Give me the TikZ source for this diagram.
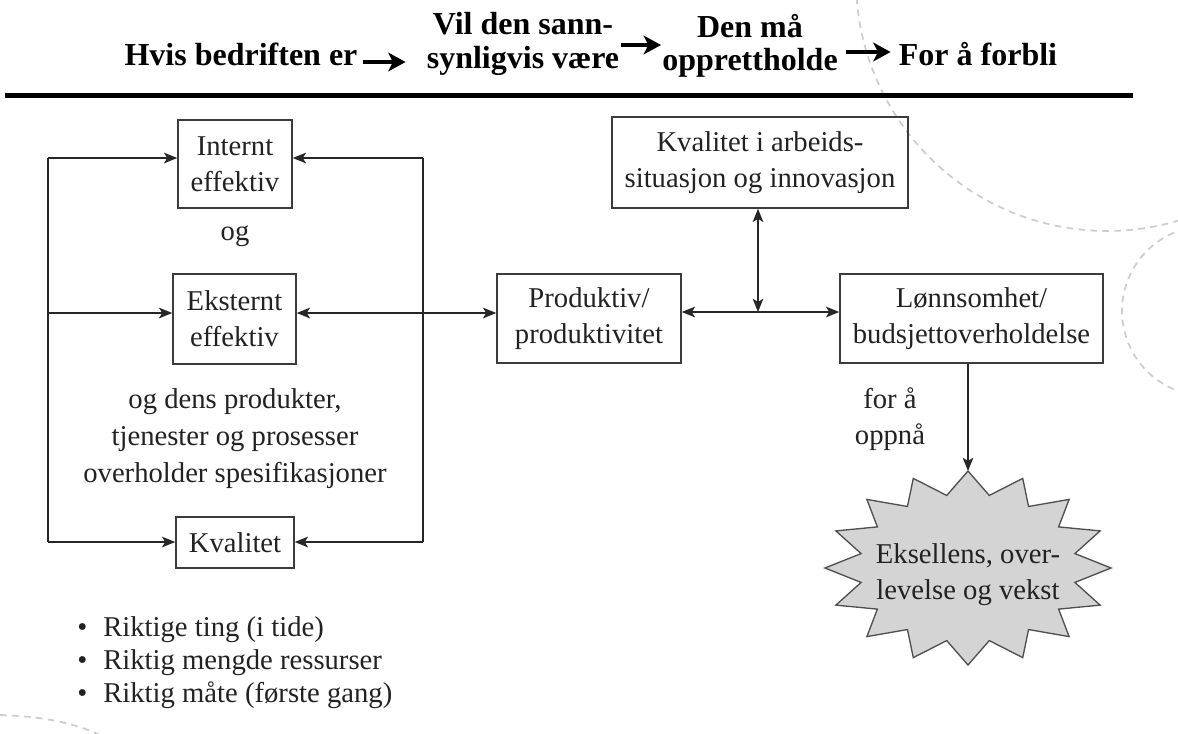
\documentclass[tikz,border=0pt]{standalone}
\usepackage{fontspec}
\setmainfont{Liberation Serif}
\usetikzlibrary{arrows.meta,calc}
\definecolor{boxgray}{HTML}{3C3C3C}
\definecolor{linegray}{HTML}{262626}
\definecolor{txt}{HTML}{222222}
\definecolor{stargray}{HTML}{D4D4D4}
\definecolor{stardraw}{HTML}{505050}
\definecolor{decogray}{HTML}{CDCDCD}
\begin{document}
\begin{tikzpicture}[x=0.75pt,y=-0.75pt,
  box/.style={draw=boxgray, line width=1.1pt, text=txt, align=center, inner sep=0pt, font=\fontsize{21.5}{27}\selectfont},
  lbl/.style={text=txt, align=center, inner sep=0pt, font=\fontsize{21.5}{27}\selectfont},
  head/.style={text=black, align=center, inner sep=0pt, font=\bfseries\fontsize{24}{25}\selectfont},
  harr/.style={draw=black, line width=3pt, -{Stealth[length=13pt,width=14pt,inset=3.5pt]}},
  conn/.style={draw=linegray, line width=1.1pt},
  arr/.style={conn, -{Stealth[length=10pt,width=8pt,inset=2.5pt]}},
  arrs/.style={conn, {Stealth[length=10pt,width=8pt,inset=2.5pt]}-{Stealth[length=10pt,width=8pt,inset=2.5pt]}},
  deco/.style={draw=decogray, line width=1.3pt, dash pattern=on 5pt off 4pt},
]
\useasboundingbox (0,0) rectangle (1178,733);
\fill[white] (0,0) rectangle (1178,733);

% decorative background arcs
\begin{scope}
  \clip (0,0) rectangle (1178,733);
  \draw[deco] plot[domain=176:65, samples=80] ({1107+251*cos(\x)},{-20+251*sin(\x)});
  \draw[deco] plot[domain=105:255, samples=60] ({1207+85*cos(\x)},{311+85*sin(\x)});
  \draw[deco] (0,715) .. controls (35,716) and (70,721) .. (100,735);
\end{scope}

% header
\node[head, anchor=base] (H1) at (241,65) {Hvis bedriften er};
\node[head] (H2) at (523,44) {Vil den sann-\\synligvis være};
\node[head] (H3) at (750,46) {Den må\\opprettholde};
\node[head, anchor=base] (H4) at (978,65) {For å forbli};
\coordinate (a1) at (0,62);
\coordinate (a2) at (0,45);
\coordinate (a3) at (0,52);
\draw[harr, shorten <=3.75pt, shorten >=15.75pt] (H1.east |- a1) -- (H2.west |- a1);
\draw[harr, shorten <=1.5pt, shorten >=0.75pt] (H2.east |- a2) -- (H3.west |- a2);
\draw[harr, shorten <=6pt, shorten >=6pt] (H3.east |- a3) -- (H4.west |- a3);
\draw[line width=3.75pt] (5,95) -- (1133,95);

% boxes
\node[box, minimum width=85.5pt, minimum height=66pt] (IE) at (235,164) {Internt\\effektiv};
\node[box, minimum width=92.25pt, minimum height=67.5pt] (EE) at (234.5,319) {Eksternt\\effektiv};
\node[box, minimum width=88.5pt, minimum height=38.25pt] (KV) at (235,542.5) {Kvalitet};
\node[box, minimum width=222pt, minimum height=68.25pt] (KA) at (760,162.5) {Kvalitet i arbeids-\\situasjon og innovasjon};
\node[box, minimum width=138pt, minimum height=66.75pt] (PR) at (589,318.5) {Produktiv/\\produktivitet};
\node[box, minimum width=197.25pt, minimum height=66.75pt] (LB) at (971.5,318.5) {Lønnsomhet/\\budsjettoverholdelse};

% labels
\node[lbl, anchor=base] (og) at (235,240) {og};
\node[lbl, font=\fontsize{21.5}{27.75}\selectfont] (spec) at (235,439) {og dens produkter,\\tjenester og prosesser\\overholder spesifikasjoner};
\node[lbl] (fora) at (890,419) {for å\\oppnå};
\node[lbl, align=left, anchor=north west, font=\fontsize{21.5}{25}\selectfont] (BL) at (77,616)
  {•\hspace{12pt}Riktige ting (i tide)\\•\hspace{12pt}Riktig mengde ressurser\\•\hspace{12pt}Riktig måte (første gang)};

% star
\filldraw[fill=stargray, draw=stardraw, line width=1pt] (968,471)
  \foreach \k in {1,...,31} { -- ({968+(126+17*cos(\k*180))*cos(90-\k*11.25)},{568-(85.5+11.5*cos(\k*180))*sin(90-\k*11.25)}) } -- cycle;
\node[lbl] (EX) at (968,575) {Eksellens, over-\\levelse og vekst};
\coordinate (ST) at (968,471);

% connectors left block
\coordinate (L1) at (48,158);
\coordinate (L2) at (48,313);
\coordinate (L3) at (48,542);
\coordinate (R1) at (423,158);
\coordinate (R3) at (423,542);
\draw[conn] (L1) -- (L3);
\draw[conn] (R1) -- (R3);
\draw[arr] (L1) -- (L1 -| IE.west);
\draw[arr] (L2) -- (L2 -| EE.west);
\draw[arr] (L3) -- (L3 -| KV.west);
\draw[arr] (R1) -- (R1 -| IE.east);
\draw[arr] (R3) -- (R3 -| KV.east);
\draw[arrs] (EE.east |- L2) -- (PR.west |- L2);

% right block
\coordinate (J) at (758,312);
\draw[arrs] (PR.east |- J) -- (LB.west |- J);
\draw[arrs] (J) -- (J |- KA.south);
\draw[arr] (ST |- LB.south) -- (ST);
\end{tikzpicture}
\end{document}
